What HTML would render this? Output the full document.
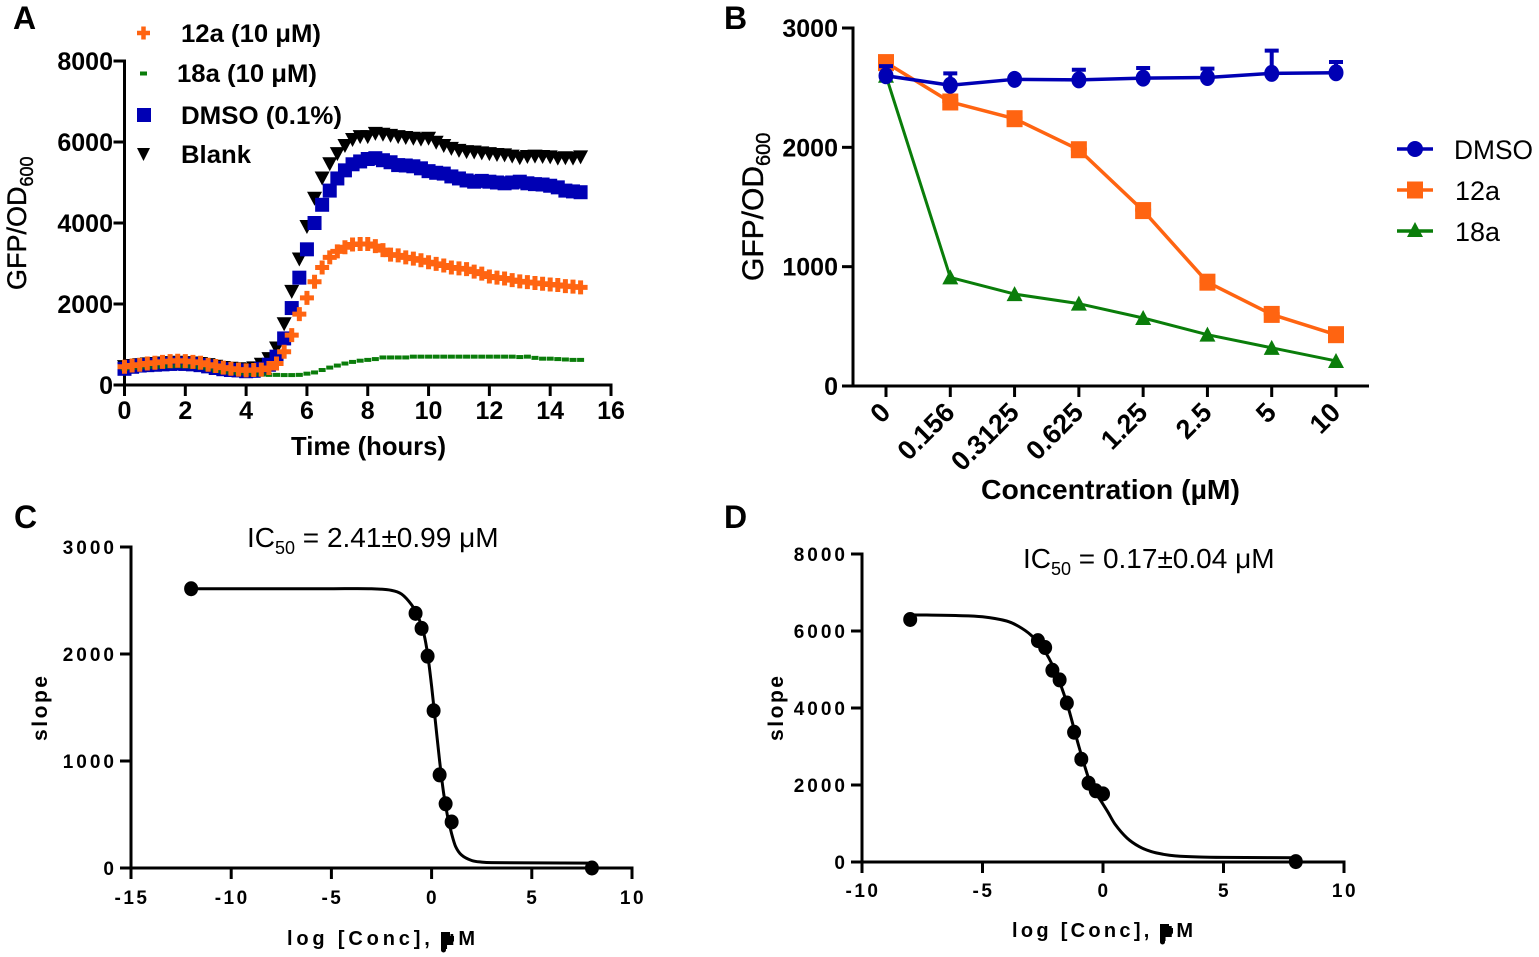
<!DOCTYPE html>
<html lang="en">
<head>
<meta charset="utf-8">
<title>GFP/OD600 and IC50 panels</title>
<style>
html,body{margin:0;padding:0;background:#fff;}
svg{display:block;}
text{font-family:"Liberation Sans",sans-serif;fill:#000;}
.b{font-weight:bold;}
</style>
</head>
<body>
<svg id="fig" xmlns="http://www.w3.org/2000/svg" width="1539" height="957" viewBox="0 0 1539 957">
<rect x="0" y="0" width="1539" height="957" fill="#fff"/>

<text class="b" x="13" y="29" font-size="32">A</text>
<text class="b" x="724" y="29" font-size="32">B</text>
<text class="b" x="14" y="528" font-size="32">C</text>
<text class="b" x="724" y="528" font-size="32">D</text>

<!-- Panel A static labels -->
<g id="panelA"></g>
<text transform="translate(26,290) rotate(-90)" font-size="27" stroke="#000" stroke-width="0.4">GFP/OD<tspan font-size="18" dy="7">600</tspan></text>
<text class="b" x="291" y="455" font-size="26" textLength="155" lengthAdjust="spacingAndGlyphs">Time (hours)</text>

<g>
  <path d="M137 33h13M143.500 26.500v13" stroke="#ff6411" stroke-width="4.500" fill="none"/>
  <text class="b" x="181" y="42" font-size="25" textLength="140" lengthAdjust="spacingAndGlyphs">12a (10 μM)</text>
  <rect x="140" y="71.500" width="7" height="4" fill="#0a7d0a"/>
  <text class="b" x="177" y="82" font-size="25" textLength="140" lengthAdjust="spacingAndGlyphs">18a (10 μM)</text>
  <rect x="137" y="108" width="14" height="14" fill="#0000b4"/>
  <text class="b" x="181" y="124" font-size="25" textLength="161" lengthAdjust="spacingAndGlyphs">DMSO (0.1%)</text>
  <path d="M137 148h13l-6.500 13z" fill="#000"/>
  <text class="b" x="181" y="163" font-size="25" textLength="70" lengthAdjust="spacingAndGlyphs">Blank</text>
</g>

<!-- Panel B static labels -->
<g id="panelB"></g>
<text transform="translate(763,281) rotate(-90)" font-size="30" stroke="#000" stroke-width="0.4">GFP/OD<tspan font-size="20" dy="7">600</tspan></text>
<text class="b" x="981" y="499" font-size="28" textLength="259" lengthAdjust="spacingAndGlyphs">Concentration (µM)</text>

<g>
  <line x1="1397" y1="149" x2="1433" y2="149" stroke="#0000b4" stroke-width="3.500"/>
  <circle cx="1415" cy="149" r="8" fill="#0000b4"/>
  <text x="1454" y="159" font-size="27" textLength="79" lengthAdjust="spacingAndGlyphs">DMSO</text>
  <line x1="1397" y1="190" x2="1433" y2="190" stroke="#ff6411" stroke-width="3.500"/>
  <rect x="1407" y="181.500" width="16" height="17" fill="#ff6411"/>
  <text x="1455" y="200" font-size="27" textLength="45" lengthAdjust="spacingAndGlyphs">12a</text>
  <line x1="1397" y1="231" x2="1433" y2="231" stroke="#0a7d0a" stroke-width="3.500"/>
  <path d="M1415 222l8 15h-16z" fill="#0a7d0a"/>
  <text x="1455" y="241" font-size="27" textLength="45" lengthAdjust="spacingAndGlyphs">18a</text>
</g>

<!-- Panel C static labels -->
<g id="panelC"></g>
<text x="247" y="547" font-size="28">IC<tspan font-size="18" dy="7">50</tspan><tspan dy="-7"> = 2.41±0.99 μM</tspan></text>
<text class="b" transform="translate(47,741) rotate(-90)" font-size="21" textLength="65">slope</text>
<text class="b" x="287" y="945" font-size="20" textLength="188">log [Conc], µM</text>
<path d="M441 932h9v4h4v5l-3 4h-5v5a2 2 0 0 1-5 0z" fill="#000"/>

<!-- Panel D static labels -->
<g id="panelD"></g>
<text x="1023" y="568" font-size="28">IC<tspan font-size="18" dy="7">50</tspan><tspan dy="-7"> = 0.17±0.04 μM</tspan></text>
<text class="b" transform="translate(783,741) rotate(-90)" font-size="21" textLength="65">slope</text>
<text class="b" x="1012" y="937" font-size="20" textLength="181">log [Conc], µM</text>
<path d="M1160 924h9v4h4v5l-3 4h-5v5a2 2 0 0 1-5 0z" fill="#000"/>
</svg>

<script>
// Panel A data
const timeA = [0,0.25,0.5,0.75,1,1.25,1.5,1.75,2,2.25,2.5,2.75,3,3.25,3.5,3.75,4,4.25,4.5,4.75,5,5.25,5.5,5.75,6,6.25,6.5,6.75,7,7.25,7.5,7.75,8,8.25,8.5,8.75,9,9.25,9.5,9.75,10,10.25,10.5,10.75,11,11.25,11.5,11.75,12,12.25,12.5,12.75,13,13.25,13.5,13.75,14,14.25,14.5,14.75,15];
const blankA = [440,470,490,510,520,530,540,550,540,530,520,490,450,420,400,390,380,410,500,640,900,1500,2300,3100,3900,4600,5100,5450,5700,5900,6050,6120,6120,6200,6180,6150,6120,6100,6080,6060,6080,5980,5900,5830,5780,5750,5740,5720,5700,5680,5670,5640,5600,5630,5640,5630,5620,5590,5600,5590,5620];
const dmsoA = [400,450,480,490,500,510,520,530,520,510,490,460,420,390,370,360,340,350,400,500,700,1150,1900,2650,3350,4000,4450,4800,5100,5300,5450,5520,5580,5600,5550,5500,5430,5420,5400,5350,5280,5240,5220,5150,5100,5050,5020,5040,5020,5000,4980,5000,5020,4980,4960,4950,4920,4880,4800,4780,4760];
const a12A = [450,480,500,530,550,570,590,600,590,570,550,500,470,430,400,380,360,370,380,420,530,820,1230,1750,2150,2550,2900,3150,3300,3400,3470,3480,3480,3430,3330,3220,3200,3150,3120,3080,3030,2990,2950,2900,2880,2860,2800,2750,2680,2650,2630,2590,2560,2540,2520,2500,2480,2470,2440,2430,2410];
const a18A = [400,420,430,440,450,455,460,465,460,450,430,400,350,320,300,290,280,265,255,250,250,245,245,250,280,310,370,430,480,530,570,600,620,640,680,680,680,680,700,700,700,700,700,700,700,700,700,700,700,700,700,700,690,700,670,650,650,640,630,620,620];
const xTicksA = [0,2,4,6,8,10,12,14,16];
const yTicksA = [0,2000,4000,6000,8000];

// Panel B data
const concLabelsB = ["0","0.156","0.3125","0.625","1.25","2.5","5","10"];
const dmsoB = [2600,2520,2570,2565,2580,2585,2620,2625];
const dmsoErrB = [2680,2620,2580,2650,2665,2660,2810,2715];
const a12B = [2710,2380,2240,1980,1470,870,600,430];
const a12ErrB = [2770,2400,2250,1990,1480,880,610,440];
const a18B = [2600,910,770,690,570,430,320,210];
const yTicksB = [0,1000,2000,3000];

// Panel C data
const logConcC = [-12,-0.8,-0.5,-0.2,0.1,0.4,0.7,1,8];
const slopeC = [2610,2380,2240,1980,1470,870,600,430,0];
const fitXC = [-12,-5,-3,-2,-1.5,-1,-0.7,-0.4,-0.2,0,0.2,0.4,0.6,0.8,1,1.2,1.5,2,2.5,3,8];
const fitYC = [2610,2610,2610,2595,2560,2460,2360,2200,2000,1700,1350,1000,700,480,320,200,120,70,55,50,45];
const xTicksC = [-15,-10,-5,0,5,10];
const yTicksC = [0,1000,2000,3000];

// Panel D data
const logConcD = [-8,-2.7,-2.4,-2.1,-1.8,-1.5,-1.2,-0.9,-0.6,-0.3,0,8];
const slopeD = [6300,5750,5570,4980,4730,4130,3370,2670,2050,1850,1770,10];
const fitXD = [-8,-6,-5,-4,-3.5,-3,-2.5,-2,-1.5,-1,-0.5,-0.2,0.2,0.5,1,1.5,2,2.5,3,4,5,8];
const fitYD = [6420,6400,6370,6260,6120,5900,5560,4980,4130,3000,2000,1700,1300,980,620,400,270,200,160,130,120,110];
const xTicksD = [-10,-5,0,5,10];
const yTicksD = [0,2000,4000,6000,8000];

const NS = "http://www.w3.org/2000/svg";
const BLUE = "#0000b4", ORANGE = "#ff6411", GREEN = "#0a7d0a";

function scale(d0, d1, r0, r1) {
  return function (v) { return r0 + (v - d0) * (r1 - r0) / (d1 - d0); };
}
function node(parent, tag, attrs, text) {
  const el = document.createElementNS(NS, tag);
  for (const k in attrs) el.setAttribute(k, attrs[k]);
  if (text !== undefined) el.textContent = text;
  parent.appendChild(el);
  return el;
}
function axisLine(g, x1, y1, x2, y2, w) {
  const el = node(g, "line", {x1: x1, y1: y1, x2: x2, y2: y2, stroke: "#000", "stroke-width": w});
  
  
  return el;
}
function tickMark(g, x1, y1, x2, y2, w) {
  const el = node(g, "line", {x1: x1, y1: y1, x2: x2, y2: y2, stroke: "#000", "stroke-width": w});
  
  
  return el;
}
function tickLabel(g, x, y, anchor, size, spacing, str) {
  const el = node(g, "text", {x: x, y: y, "text-anchor": anchor, "font-size": size, "font-weight": "bold", "letter-spacing": spacing}, str);
  
  
  return el;
}
function linePath(g, xs, ys, sx, sy, color, w) {
  let d = "";
  for (let i = 0; i < xs.length; i++) d += (i ? "L" : "M") + sx(xs[i]).toFixed(2) + " " + sy(ys[i]).toFixed(2);
  const el = node(g, "path", {d: d, fill: "none", stroke: color, "stroke-width": w, "stroke-linejoin": "round"});
  
  
  return el;
}
function fitCurve(g, xs, ys, sx, sy) {
  const px = xs.map(sx), py = ys.map(sy);
  let d = "M" + px[0].toFixed(2) + " " + py[0].toFixed(2);
  for (let i = 0; i < px.length - 1; i++) {
    const a = Math.max(i - 1, 0), b = Math.min(i + 2, px.length - 1);
    const h = px[i + 1] - px[i];
    const m1 = (py[i + 1] - py[a]) / (px[i + 1] - px[a]);
    const m2 = (py[b] - py[i]) / (px[b] - px[i]);
    d += "C" + (px[i] + h / 3).toFixed(2) + " " + (py[i] + m1 * h / 3).toFixed(2) + " " +
         (px[i + 1] - h / 3).toFixed(2) + " " + (py[i + 1] - m2 * h / 3).toFixed(2) + " " +
         px[i + 1].toFixed(2) + " " + py[i + 1].toFixed(2);
  }
  const el = node(g, "path", {d: d, fill: "none", stroke: "#000", "stroke-width": 3});
  
  
  return el;
}

/* ---------- Panel A ---------- */
const gA = document.getElementById("panelA");
const xA = scale(0, 16, 124.5, 611);
const yA = scale(0, 8000, 385, 61);
axisLine(gA, xA(0), yA(8000) - 1.5, xA(0), yA(0) + 1.5, 3);
axisLine(gA, xA(0) - 1.5, yA(0), xA(16) + 1.5, yA(0), 3);
xTicksA.forEach(function (t) {
  tickMark(gA, xA(t), yA(0), xA(t), yA(0) + 11, 3);
  tickLabel(gA, xA(t), 419, "middle", 25, 0, String(t));
});
yTicksA.forEach(function (t) {
  tickMark(gA, xA(0) - 11, yA(t), xA(0), yA(t), 3);
  tickLabel(gA, 113, yA(t) + 9, "end", 25, 0, String(t));
});
timeA.forEach(function (t, i) {
  const px = xA(t), py = yA(blankA[i]);
  const el = node(gA, "path", {d: "M" + (px - 7.5) + " " + (py - 7) + "h15l-7.5 14z", fill: "#000"});
  
  
});
timeA.forEach(function (t, i) {
  const px = xA(t), py = yA(dmsoA[i]);
  const el = node(gA, "rect", {x: px - 7, y: py - 7, width: 14, height: 14, fill: BLUE});
  
  
});
timeA.forEach(function (t, i) {
  const px = xA(t), py = yA(a18A[i]);
  const el = node(gA, "rect", {x: px - 3.5, y: py - 2, width: 7, height: 4, fill: GREEN});
  
  
});
timeA.forEach(function (t, i) {
  const px = xA(t), py = yA(a12A[i]);
  const el = node(gA, "path", {d: "M" + (px - 7) + " " + py + "h14M" + px + " " + (py - 7) + "v14", stroke: ORANGE, "stroke-width": 5, fill: "none"});
  
  
});

/* ---------- Panel B ---------- */
const gB = document.getElementById("panelB");
const xB = scale(0, 7, 886, 1336);
const yB = scale(0, 3000, 386, 28);
const catIdx = concLabelsB.map(function (_, i) { return i; });
axisLine(gB, 853, yB(3000) - 1.5, 853, yB(0) + 1.5, 3);
axisLine(gB, 851.5, yB(0), 1369, yB(0), 3);
catIdx.forEach(function (i) {
  const px = xB(i);
  tickMark(gB, px, yB(0), px, yB(0) + 11, 3);
  const el = node(gB, "text", {transform: "translate(" + (px + 6) + ",414) rotate(-45)", "text-anchor": "end", "font-size": 27, "font-weight": "bold"}, concLabelsB[i]);
  
  
});
yTicksB.forEach(function (t) {
  tickMark(gB, 842, yB(t), 853, yB(t), 3);
  tickLabel(gB, 838, yB(t) + 9, "end", 25, 0, String(t));
});
linePath(gB, catIdx, a18B, xB, yB, GREEN, 3);
catIdx.forEach(function (i) {
  const px = xB(i), py = yB(a18B[i]);
  const el = node(gB, "path", {d: "M" + px + " " + (py - 8) + "l8 15h-16z", fill: GREEN});
  
  
});
linePath(gB, catIdx, a12B, xB, yB, ORANGE, 3.5);
catIdx.forEach(function (i) {
  const px = xB(i), py = yB(a12B[i]), pe = yB(a12ErrB[i]);
  const bar = node(gB, "rect", {x: px - 8, y: pe - 1, width: 16, height: py - pe + 2, fill: ORANGE});
  
  
  const el = node(gB, "rect", {x: px - 8, y: py - 8.5, width: 16, height: 17, fill: ORANGE});
  
  
});
linePath(gB, catIdx, dmsoB, xB, yB, BLUE, 3.5);
catIdx.forEach(function (i) {
  const px = xB(i), py = yB(dmsoB[i]), pe = yB(dmsoErrB[i]);
  const bar = node(gB, "path", {d: "M" + px + " " + py + "V" + pe + "M" + (px - 7) + " " + pe + "h14", stroke: BLUE, "stroke-width": 4, fill: "none"});
  
  
  const el = node(gB, "ellipse", {cx: px, cy: py, rx: 7.5, ry: 8.5, fill: BLUE});
  
  
});

/* ---------- Panel C ---------- */
const gC = document.getElementById("panelC");
const xC = scale(-15, 10, 131, 632);
const yC = scale(0, 3000, 868, 547);
axisLine(gC, xC(-15), yC(3000) - 1.5, xC(-15), yC(0) + 1.5, 3);
axisLine(gC, xC(-15) - 1.5, yC(0), xC(10) + 1.5, yC(0), 3);
xTicksC.forEach(function (t) {
  tickMark(gC, xC(t), yC(0), xC(t), yC(0) + 11, 3);
  tickLabel(gC, xC(t) + 1, 904, "middle", 19, 2.5, String(t));
});
yTicksC.forEach(function (t) {
  tickMark(gC, xC(-15) - 11, yC(t), xC(-15), yC(t), 3);
  tickLabel(gC, 117, yC(t) + 7, "end", 19, 3, String(t));
});
fitCurve(gC, fitXC, fitYC, xC, yC);
logConcC.forEach(function (t, i) {
  const el = node(gC, "ellipse", {cx: xC(t), cy: yC(slopeC[i]), rx: 7, ry: 7.5, fill: "#000"});
  
  
});

/* ---------- Panel D ---------- */
const gD = document.getElementById("panelD");
const xD = scale(-10, 10, 862, 1344);
const yD = scale(0, 8000, 862, 554);
axisLine(gD, xD(-10), yD(8000) - 1.5, xD(-10), yD(0) + 1.5, 3);
axisLine(gD, xD(-10) - 1.5, yD(0), xD(10) + 1.5, yD(0), 3);
xTicksD.forEach(function (t) {
  tickMark(gD, xD(t), yD(0), xD(t), yD(0) + 11, 3);
  tickLabel(gD, xD(t) + 1, 897, "middle", 19, 2.5, String(t));
});
yTicksD.forEach(function (t) {
  tickMark(gD, xD(-10) - 11, yD(t), xD(-10), yD(t), 3);
  tickLabel(gD, 848, yD(t) + 7, "end", 19, 3, String(t));
});
fitCurve(gD, fitXD, fitYD, xD, yD);
logConcD.forEach(function (t, i) {
  const el = node(gD, "ellipse", {cx: xD(t), cy: yD(slopeD[i]), rx: 7, ry: 7.5, fill: "#000"});
  
  
});
</script>
</body>
</html>
